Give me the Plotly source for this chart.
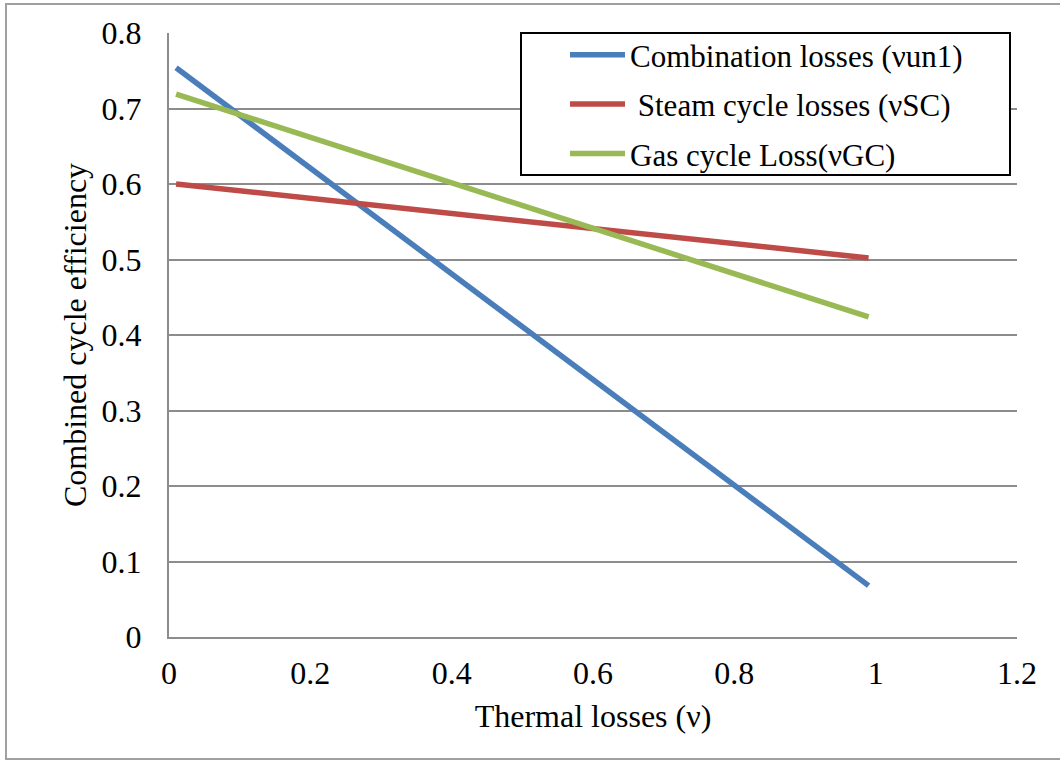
import plotly.graph_objects as go

# Thermal losses (nu) at the two ends of each curve
nu = [0.01, 0.99]

# Combined cycle efficiency for each loss mechanism
combination_losses = [0.754, 0.068]
steam_cycle_losses = [0.600, 0.502]
gas_cycle_losses = [0.719, 0.424]

series_names = [
    "Combination losses (νun1)",
    " Steam cycle losses (νSC)",
    "Gas cycle Loss(νGC)",
]
series_colors = ["#4A7EBB", "#BE4B48", "#98B954"]
series_values = [combination_losses, steam_cycle_losses, gas_cycle_losses]

x_ticks = [0, 0.2, 0.4, 0.6, 0.8, 1, 1.2]
x_tick_labels = ["0", "0.2", "0.4", "0.6", "0.8", "1", "1.2"]
y_ticks = [0, 0.1, 0.2, 0.3, 0.4, 0.5, 0.6, 0.7, 0.8]
y_tick_labels = ["0", "0.1", "0.2", "0.3", "0.4", "0.5", "0.6", "0.7", "0.8"]

FONT = "Liberation Serif"

fig = go.Figure()
for i, (name, color, vals) in enumerate(zip(series_names, series_colors, series_values)):
    fig.add_trace(go.Scatter(
        x=nu, y=vals, mode="lines", name=name,
        legendgroup=f"g{i}",
        line=dict(color=color, width=5.5),
    ))

fig.update_layout(
    width=1060, height=760,
    margin=dict(l=169, r=43, t=33, b=123),
    paper_bgcolor="white", plot_bgcolor="white",
    font=dict(family=FONT, size=32, color="black"),
    showlegend=True,
    legend=dict(
        x=0.467, y=1.008, xanchor="left", yanchor="top",
        bgcolor="rgba(0,0,0,0)", borderwidth=0,
        font=dict(family=FONT, size=31, color="black"),
        tracegroupgap=6, itemwidth=55,
    ),
    xaxis=dict(
        range=[0, 1.2], tickvals=x_ticks, ticktext=x_tick_labels,
        showgrid=False, zeroline=False,
        showline=True, linecolor="#8C8C8C", linewidth=2,
        ticks="", ticklen=0, ticklabelstandoff=7,
        tickfont=dict(family=FONT, size=32, color="black"),
        title=dict(text="Thermal losses (ν)", font=dict(family=FONT, size=32, color="black"), standoff=14),
    ),
    yaxis=dict(
        range=[0, 0.8], tickvals=y_ticks, ticktext=y_tick_labels,
        showgrid=True, gridcolor="#8C8C8C", gridwidth=1.5,
        zeroline=False,
        showline=True, linecolor="#8C8C8C", linewidth=2,
        ticks="", ticklen=0, ticklabelstandoff=19,
        tickfont=dict(family=FONT, size=32, color="black"),
        title=dict(text="Combined cycle efficiency", font=dict(family=FONT, size=32, color="black"), standoff=5),
    ),
    shapes=[
        # legend frame, filled so gridlines stop at its edge
        dict(type="rect", xref="paper", yref="paper",
             x0=(521 - 169) / 848, x1=(1010 - 169) / 848,
             y0=(637 - 175) / 604, y1=(637 - 33) / 604,
             line=dict(color="black", width=2), fillcolor="white", layer="above"),
        # outer chart border
        dict(type="rect", xref="paper", yref="paper",
             x0=(6 - 169) / 848, x1=(1062 - 169) / 848,
             y0=(637 - 759) / 604, y1=(637 - 4) / 604,
             line=dict(color="#A0A0A0", width=2), fillcolor="rgba(0,0,0,0)", layer="below"),
    ],
)

fig.write_html("out.html")
